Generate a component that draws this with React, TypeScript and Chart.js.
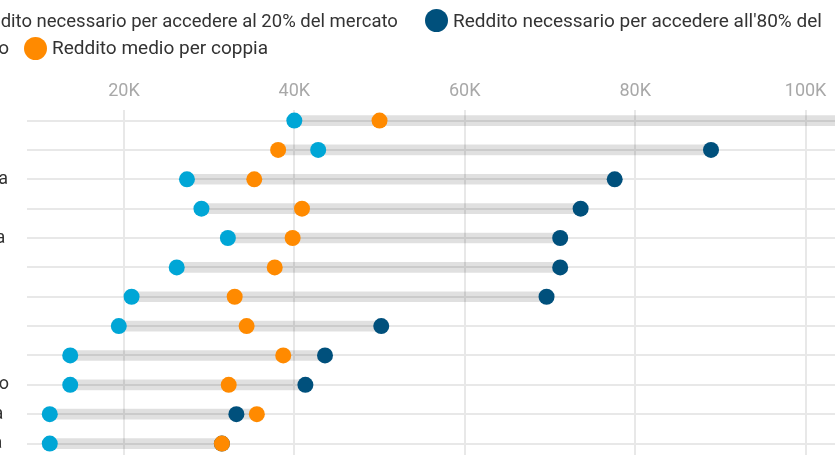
import React, { useEffect, useRef } from "react";
import { Chart, registerables } from "chart.js";

Chart.register(...registerables);

const categories = ["Milano", "Firenze", "Bologna", "Roma", "Venezia", "Trento", "Napoli", "Bari", "Torino", "Palermo", "Catania", "Genova"];
const reddito20 = [40000, 42800, 27400, 29100, 32200, 26200, 20900, 19400, 13700, 13700, 11300, 11300];
const reddito80 = [112000, 88900, 77600, 73600, 71200, 71200, 69600, 50200, 43600, 41300, 33200, 31500];
const redditoMedio = [50000, 38100, 35300, 40900, 39800, 37700, 33000, 34400, 38700, 32300, 35600, 31500];
const xTicks = [20000, 40000, 60000, 80000, 100000];

const legend20 = "Reddito necessario per accedere al 20% del mercato";
const legend80a = "Reddito necessario per accedere all'80% del";
const legend80b = "mercato";
const legendMedio = "Reddito medio per coppia";

const CYAN = "#00a6d6";
const DARK = "#00507c";
const ORANGE = "#ff8a00";
const FONT = "Roboto";

const CANVAS_LEFT = -58;
const PLOT_LEFT = 27;

export default function App() {
  const ref = useRef<HTMLCanvasElement | null>(null);

  useEffect(() => {
    document.body.style.margin = "0";
    document.body.style.overflow = "hidden";
    const canvas = ref.current;
    if (!canvas) return;
    const toPts = (arr: number[]) => arr.map((v, i) => ({ x: v, y: i }));
    const ranges = categories.map((_, i) => ({
      y: i,
      x: [Math.min(reddito20[i], reddito80[i], redditoMedio[i]), Math.max(reddito20[i], reddito80[i], redditoMedio[i])],
    }));
    const chart = new Chart(canvas, {
      type: "scatter",
      data: {
        datasets: [
          { type: "scatter", label: legendMedio, data: toPts(redditoMedio), backgroundColor: ORANGE, borderWidth: 0, pointRadius: 8, pointHoverRadius: 8, order: 1 },
          { type: "scatter", label: legend20, data: toPts(reddito20), backgroundColor: CYAN, borderWidth: 0, pointRadius: 8, pointHoverRadius: 8, order: 2 },
          { type: "scatter", label: legend80a + " " + legend80b, data: toPts(reddito80), backgroundColor: DARK, borderWidth: 0, pointRadius: 8, pointHoverRadius: 8, order: 3 },
          { type: "bar", label: "range", indexAxis: "y", data: ranges as any, backgroundColor: "rgba(0,0,0,0.12)", borderWidth: 0, barThickness: 10, order: 4 } as any,
        ],
      },
      options: {
        animation: false,
        responsive: false,
        devicePixelRatio: 1,
        layout: { padding: { left: 0, right: 10, top: 0, bottom: 12 } },
        plugins: { legend: { display: false }, tooltip: { enabled: false } },
        events: [],
        scales: {
          x: {
            type: "linear",
            position: "top",
            offset: false,
            min: 8627,
            max: 120000,
            afterFit: (axis: any) => { axis.height = 110; },
            afterBuildTicks: (axis: any) => { axis.ticks = xTicks.map((v) => ({ value: v })); },
            grid: { color: "#e8e8e8", lineWidth: 2, drawTicks: false, offset: false },
            border: { display: false },
            ticks: {
              padding: 8,
              color: "#a8a8a8",
              font: { family: FONT, size: 18 },
              callback: (v: any) => Number(v) / 1000 + "K",
            },
          },
          y: {
            type: "linear",
            reverse: true,
            offset: false,
            min: -0.36,
            max: 11.39,
            afterFit: (axis: any) => { axis.width = PLOT_LEFT - CANVAS_LEFT; },
            afterBuildTicks: (axis: any) => { axis.ticks = categories.map((_, i) => ({ value: i })); },
            grid: { color: "#e8e8e8", lineWidth: 2, drawTicks: false, offset: false },
            border: { display: false },
            ticks: {
              crossAlign: "far",
              padding: 0,
              color: "#333333",
              font: { family: FONT, size: 18 },
              callback: (v: any) => categories[Number(v)] ?? "",
            },
          },
        },
      },
    } as any);
    return () => chart.destroy();
  }, []);

  const textStyle: React.CSSProperties = {
    position: "absolute",
    fontFamily: FONT,
    fontSize: 19,
    lineHeight: "24px",
    color: "#333333",
    whiteSpace: "nowrap",
  };
  const dot = (left: number, top: number, color: string): React.CSSProperties => ({
    position: "absolute",
    left,
    top,
    width: 23,
    height: 23,
    borderRadius: "50%",
    background: color,
  });

  const canvasWidth = 1044;

  return (
    <div style={{ position: "relative", width: 835, height: 467, overflow: "hidden", background: "#fff" }}>
      <canvas ref={ref} width={canvasWidth} height={467} style={{ position: "absolute", left: CANVAS_LEFT, top: 0, width: canvasWidth, height: 467 }} />
      <div style={dot(-59, 9, CYAN)} />
      <div style={{ ...textStyle, fontSize: 18.5, left: -31, top: 9 }}>{legend20}</div>
      <div style={dot(425, 9, DARK)} />
      <div style={{ ...textStyle, left: 453, top: 9 }}>{legend80a}</div>
      <div style={{ ...textStyle, right: 835 - 9, top: 36 }}>{legend80b}</div>
      <div style={dot(24, 36.5, ORANGE)} />
      <div style={{ ...textStyle, left: 52, top: 36 }}>{legendMedio}</div>
    </div>
  );
}
